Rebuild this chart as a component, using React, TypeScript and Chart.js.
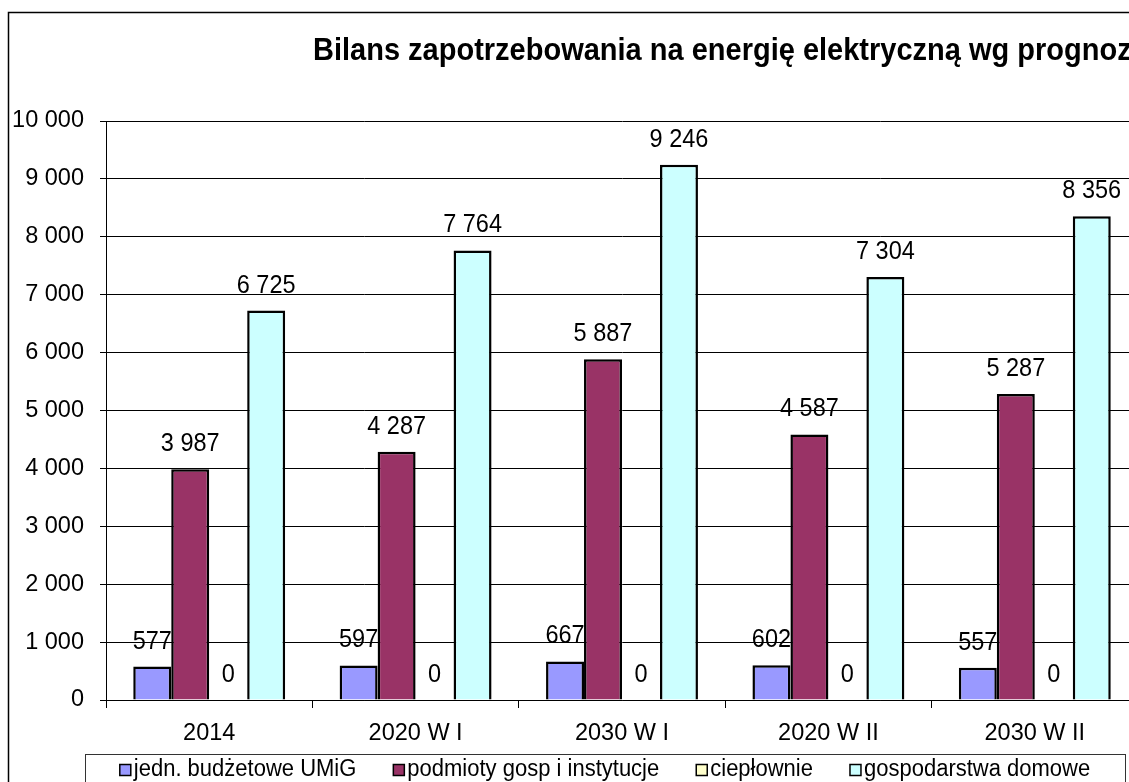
import React, { useEffect, useRef } from 'react';
import { Chart, registerables } from 'chart.js';

Chart.register(...registerables);

const FONT = '"Liberation Sans", Arial, Helvetica, sans-serif';

const TITLE = 'Bilans zapotrzebowania na energię elektryczną wg prognoz';

const categories = ['2014', '2020 W I', '2030 W I', '2020 W II', '2030 W II'];
const seriesNames = [
  'jedn. budżetowe UMiG',
  'podmioty gosp i instytucje',
  'ciepłownie',
  'gospodarstwa domowe',
];
const jednBudzetowe = [577, 597, 667, 602, 557];
const podmiotyGosp = [3987, 4287, 5887, 4587, 5287];
const cieplownie = [0, 0, 0, 0, 0];
const gospodarstwaDomowe = [6725, 7764, 9246, 7304, 8356];
const seriesColors = ['#9999FF', '#993366', '#FFFFCC', '#CCFFFF'];
const yTickValues = [0, 1000, 2000, 3000, 4000, 5000, 6000, 7000, 8000, 9000, 10000];

function fmt(v: number): string {
  return String(v).replace(/\B(?=(\d{3})+(?!\d))/g, ' ');
}

function tallText(ctx: CanvasRenderingContext2D, text: string, x: number, y: number, sy: number) {
  ctx.save();
  ctx.translate(x, y);
  ctx.scale(1, sy);
  ctx.fillText(text, 0, 0);
  ctx.restore();
}

export default function App() {
  const ref = useRef<HTMLCanvasElement>(null);

  useEffect(() => {
    if (!ref.current) return;

    const background = {
      id: 'background',
      beforeDraw(chart: any) {
        const ctx = chart.ctx;
        ctx.save();
        ctx.fillStyle = '#ffffff';
        ctx.fillRect(0, 0, chart.width, chart.height);
        ctx.restore();
      },
    };

    const decorations = {
      id: 'decorations',
      afterDatasetsDraw(chart: any) {
        const ctx = chart.ctx;
        ctx.save();
        ctx.font = `23.5px ${FONT}`;
        ctx.fillStyle = '#000';
        ctx.textAlign = 'center';
        ctx.textBaseline = 'alphabetic';
        chart.data.datasets.forEach((ds: any, i: number) => {
          const meta = chart.getDatasetMeta(i);
          meta.data.forEach((el: any, j: number) => {
            tallText(ctx, fmt(ds.data[j]), el.x, el.y - 18, 1.06);
          });
        });
        ctx.restore();
      },
      afterDraw(chart: any) {
        const ctx = chart.ctx;
        ctx.save();
        // outer frame
        ctx.strokeStyle = '#000';
        ctx.lineWidth = 1.5;
        ctx.strokeRect(8.5, 12.5, 3000, 3000);
        // title
        ctx.font = `bold 29px ${FONT}`;
        ctx.fillStyle = '#000';
        ctx.textAlign = 'left';
        ctx.textBaseline = 'alphabetic';
        tallText(ctx, TITLE, 313, 60, 1.08);
        // legend
        const boxL = 85;
        const boxT = 754;
        const boxR = 1125;
        ctx.strokeStyle = '#333';
        ctx.lineWidth = 1;
        ctx.strokeRect(boxL + 0.5, boxT + 0.5, boxR - boxL, 200);
        ctx.font = `22px ${FONT}`;
        const items = chart.data.datasets.map((ds: any) => ({
          label: ds.label,
          color: ds.backgroundColor,
          w: ctx.measureText(ds.label).width,
        }));
        const marker = 11;
        const mgap = 3;
        const gap = 37;
        const total =
          items.reduce((s: number, it: any) => s + marker + mgap + it.w, 0) +
          gap * (items.length - 1);
        let x = (boxL + boxR) / 2 - total / 2;
        items.forEach((it: any) => {
          ctx.fillStyle = it.color;
          ctx.fillRect(x, 764.5, marker, marker);
          ctx.strokeStyle = '#000';
          ctx.lineWidth = 1.5;
          ctx.strokeRect(x, 764.5, marker, marker);
          ctx.fillStyle = '#000';
          tallText(ctx, it.label, x + marker + mgap, 775.5, 1.06);
          x += marker + mgap + it.w + gap;
        });
        ctx.restore();
      },
    };

    const seriesData = [jednBudzetowe, podmiotyGosp, cieplownie, gospodarstwaDomowe];

    const chart = new Chart(ref.current, {
      type: 'bar',
      data: {
        labels: categories,
        datasets: seriesNames.map((name, i) => ({
          label: name,
          data: seriesData[i],
          backgroundColor: seriesColors[i],
          borderColor: '#000',
          borderWidth: 2.5,
          categoryPercentage: 0.736,
          barPercentage: 1,
        })),
      },
      options: {
        responsive: false,
        animation: false,
        layout: { padding: { left: 0, top: 121, right: 42, bottom: 0 } },
        plugins: {
          legend: { display: false },
          tooltip: { enabled: false },
          title: { display: false },
        },
        scales: {
          x: {
            type: 'category',
            afterFit(scale: any) {
              scale.height = 100;
            },
            grid: {
              offset: true,
              drawOnChartArea: false,
              drawTicks: true,
              tickLength: 8,
              color: '#000',
              lineWidth: 1,
            },
            border: { display: true, color: '#000', width: 1 },
            ticks: {
              color: '#000',
              font: { family: FONT, size: 23.5 },
              padding: 11,
              maxRotation: 0,
              autoSkip: false,
            },
          },
          y: {
            min: 0,
            max: 10000,
            afterFit(scale: any) {
              scale.width = 106;
            },
            afterBuildTicks(scale: any) {
              scale.ticks = yTickValues.map((v) => ({ value: v }));
            },
            grid: {
              color: '#000',
              lineWidth: 1,
              drawTicks: true,
              tickLength: 6,
            },
            border: { display: true, color: '#000', width: 1 },
            ticks: {
              color: '#000',
              font: { family: FONT, size: 23.5 },
              padding: 16,
              callback: (v: any) => fmt(Number(v)),
            },
          },
        },
      },
      plugins: [background, decorations],
    } as any);

    return () => chart.destroy();
  }, []);

  return (
    <div
      style={{
        position: 'fixed',
        left: 0,
        top: 0,
        width: 1129,
        height: 782,
        overflow: 'hidden',
        background: '#fff',
      }}
    >
      <canvas
        ref={ref}
        width={1180}
        height={800}
        style={{ position: 'absolute', left: 0, top: 0, width: 1180, height: 800 }}
      />
    </div>
  );
}
